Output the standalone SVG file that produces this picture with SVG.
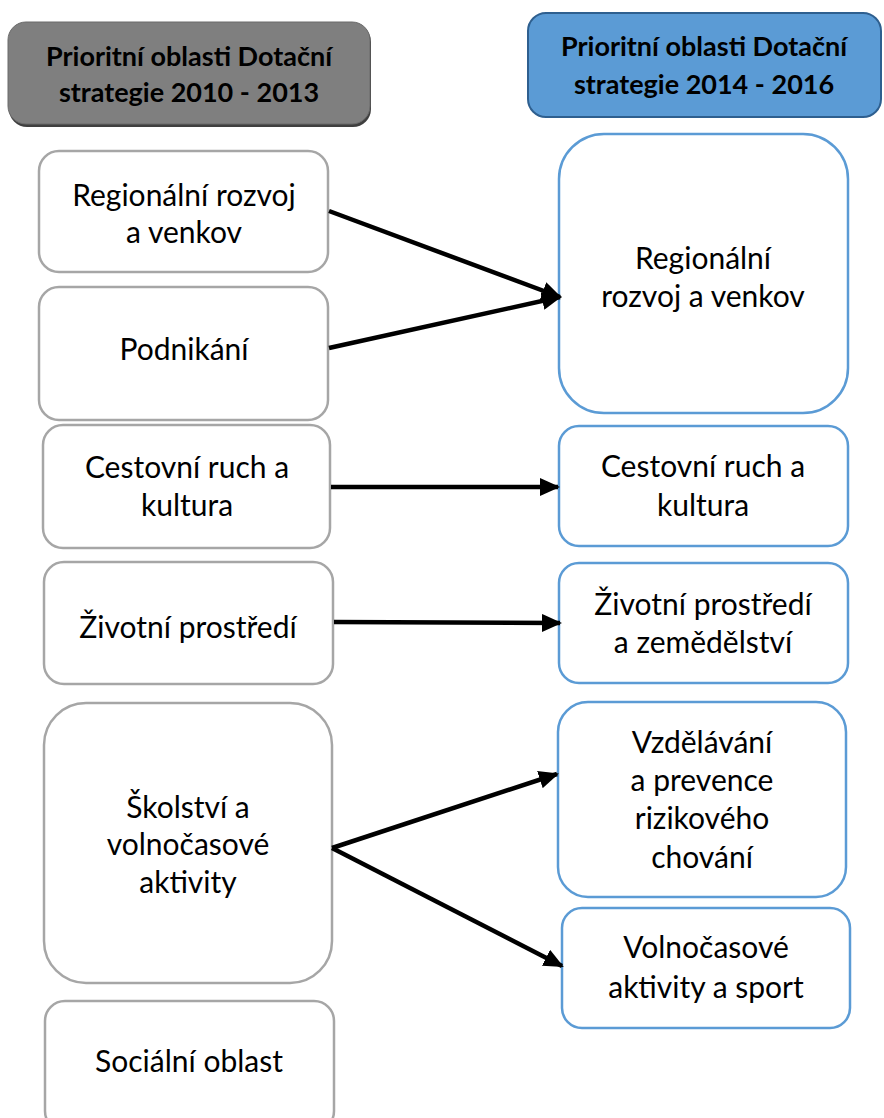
<svg xmlns="http://www.w3.org/2000/svg" width="884" height="1118" viewBox="0 0 884 1118">
<style>
.t{font-family:Lato,"Liberation Sans",sans-serif;font-size:30px;fill:#000;text-anchor:middle}
.h{font-family:Lato,"Liberation Sans",sans-serif;font-size:27px;font-weight:bold;fill:#000;text-anchor:middle}
.l{fill:#fff;stroke:#a6a6a6;stroke-width:2.5}
.r{fill:#fff;stroke:#5b9bd5;stroke-width:2.5}
.c{stroke:#000;stroke-width:4.5;fill:none;marker-end:url(#ah)}
</style>
<defs>
<marker id="ah" markerUnits="userSpaceOnUse" markerWidth="20" markerHeight="18" refX="18" refY="9" orient="auto">
<path d="M0,0 L20,9 L0,18 Z" fill="#000"/>
</marker>
</defs>
<g id="hdr-left">
<rect x="9" y="24" width="362" height="103" rx="18" fill="#3f3f3f"/>
<rect x="8" y="22" width="362" height="102" rx="18" fill="#7f7f7f" stroke="#6b6b6b" stroke-width="1"/>
<text class="h" x="189" y="66">Prioritní oblasti Dotační</text>
<text class="h" x="189" y="102">strategie 2010 - 2013</text>
</g>
<g id="hdr-right">
<rect x="528" y="13" width="353" height="104" rx="18" fill="#5b9bd5" stroke="#2e5f8f" stroke-width="2"/>
<text class="h" x="704" y="56">Prioritní oblasti Dotační</text>
<text class="h" x="704" y="94">strategie 2014 - 2016</text>
</g>
<g id="l1"><rect class="l" x="39" y="151" width="289" height="121" rx="20"/>
<text class="t" x="184" y="206">Regionální rozvoj</text><text class="t" x="184" y="243">a venkov</text></g>
<g id="l2"><rect class="l" x="39" y="287" width="289" height="133" rx="20"/>
<text class="t" x="184" y="360">Podnikání</text></g>
<g id="l3"><rect class="l" x="43" y="425" width="287" height="123" rx="20"/>
<text class="t" x="187" y="478">Cestovní ruch a</text><text class="t" x="187" y="516">kultura</text></g>
<g id="l4"><rect class="l" x="44" y="562" width="289" height="122" rx="20"/>
<text class="t" x="188" y="638">Životní prostředí</text></g>
<g id="l5"><rect class="l" x="44" y="703" width="288" height="280" rx="42"/>
<text class="t" x="188" y="818">Školství a</text><text class="t" x="188" y="855">volnočasové</text><text class="t" x="188" y="893">aktivity</text></g>
<g id="l6"><rect class="l" x="45" y="1001" width="289" height="130" rx="20"/>
<text class="t" x="189" y="1072">Sociální oblast</text></g>
<g id="r1"><rect class="r" x="559" y="134" width="289" height="279" rx="45"/>
<text class="t" x="703" y="269">Regionální</text><text class="t" x="703" y="307">rozvoj a venkov</text></g>
<g id="r2"><rect class="r" x="559" y="426" width="289" height="120" rx="20"/>
<text class="t" x="703" y="477">Cestovní ruch a</text><text class="t" x="703" y="516">kultura</text></g>
<g id="r3"><rect class="r" x="559" y="563" width="289" height="120" rx="20"/>
<text class="t" x="703" y="615">Životní prostředí</text><text class="t" x="703" y="653">a zemědělství</text></g>
<g id="r4"><rect class="r" x="558" y="702" width="288" height="195" rx="30"/>
<text class="t" x="702" y="753">Vzdělávání</text><text class="t" x="702" y="791">a prevence</text><text class="t" x="702" y="829">rizikového</text><text class="t" x="702" y="868">chování</text></g>
<g id="r5"><rect class="r" x="562" y="908" width="288" height="120" rx="20"/>
<text class="t" x="706" y="958">Volnočasové</text><text class="t" x="706" y="998">aktivity a sport</text></g>
<g id="connectors">
<path class="c" d="M329,211 L560,297"/>
<path class="c" d="M329,348 L560,297"/>
<path class="c" d="M331,487 L558,487"/>
<path class="c" d="M334,622 L560,623"/>
<path class="c" d="M332,848 L557,774"/>
<path class="c" d="M332,848 L562,966"/>
</g>
</svg>
